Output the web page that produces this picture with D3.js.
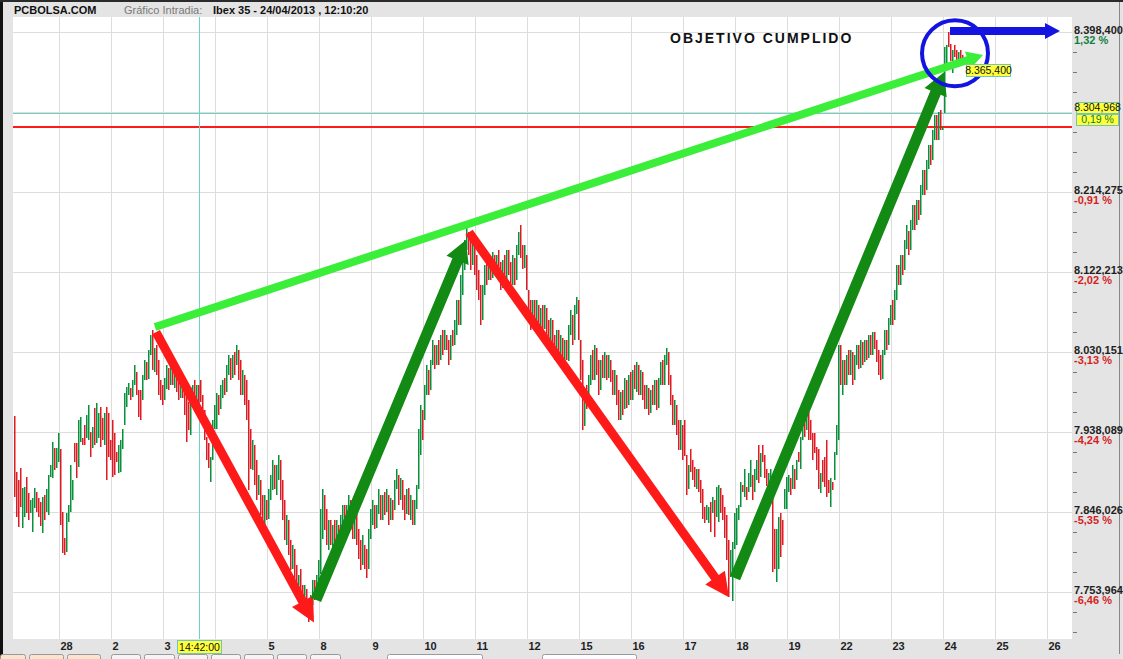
<!DOCTYPE html>
<html>
<head>
<meta charset="utf-8">
<script src="https://cdn.jsdelivr.net/npm/d3@7"></script>
<style>
  body { margin: 0; background: #e4e4e4; }
  svg { display: block; font-family: "Liberation Sans", Arial, sans-serif; }
</style>
</head>
<body>
<svg id="chart" width="1123" height="659"></svg>
<script>
// ===============================================================
// Data: 20-minute bars, [open, close] per bar, one array per session

const d27 = [[7957,7864],[7892,7840],[7883,7829],[7897,7852],[7828,7874],[7840,7875],[7886,7845],[7868,7837],[7845,7860],[7823,7862],[7851,7874],[7869,7846],[7862,7840],[7857,7829],[7822,7863],[7866,7837],[7845,7872],[7843,7889],[7886,7900],[7885,7927],[7920,7895],[7897,7920],[7904,7937]];
const d28 = [[7918,7831],[7846,7799],[7816,7797],[7800,7845],[7834,7854],[7846,7900],[7860,7883],[7926,7904],[7926,7886],[7898,7952],[7926,7955],[7931,7923],[7946,7923],[7932,7958],[7929,7969],[7938,7909],[7920,7944],[7966,7923],[7926,7972],[7931,7960],[7967,7921],[7954,7929],[7923,7960],[7967,7883],[7960,7909],[7929,7906]];
const d02 = [[7952,7886],[7937,7889],[7915,7903],[7891,7923],[7892,7929],[7918,7941],[7946,7983],[7967,7990],[7981,7995],[7989,7975],[7978,7998],[7992,8015],[8007,7981],[7987,7956],[7987,7952],[7975,8004],[7998,8021],[8019,7998],[8000,8033],[8027,8050],[8056,8010],[8007,8035],[8038,8004],[8021,7981],[7998,7975],[7992,7969]];
const d03 = [[7975,8000],[7987,8015],[8012,7987],[7992,8021],[8019,7992],[7989,8012],[8015,7984],[8000,7975],[7977,8000],[7998,7977],[7992,7958],[7990,7927],[7973,7941],[7935,7990],[7969,7992],[7998,7975],[7969,7992],[7992,7964],[7998,7973],[7981,7946],[7964,7929],[7932,7906],[7926,7897],[7880,7909],[7906,7952],[7941,7969]];
const d04 = [[7941,7983],[7981,7958],[7964,7992],[7977,7998],[8000,7981],[7984,8015],[8004,8027],[8023,7998],[8000,8027],[8030,8004],[8015,8038],[8033,7998],[8021,7981],[7981,8010],[8004,7969],[7998,7952],[7975,7872],[7941,7895],[7895,7929],[7923,7877],[7906,7860],[7866,7889],[7883,7843],[7866,7831],[7826,7866],[7860,7837]];
const d05 = [[7837,7872],[7860,7889],[7872,7906],[7900,7872],[7866,7900],[7883,7912],[7906,7860],[7883,7837],[7860,7814],[7808,7843],[7837,7797],[7814,7780],[7780,7808],[7803,7768],[7785,7751],[7751,7774],[7780,7747],[7762,7739],[7739,7762],[7757,7731],[7745,7720],[7722,7751],[7739,7768],[7768,7745],[7745,7774],[7762,7791]];
const d08 = [[7774,7849],[7814,7872],[7866,7826],[7849,7808],[7803,7837],[7837,7808],[7805,7831],[7837,7803],[7808,7837],[7831,7805],[7808,7843],[7831,7854],[7854,7820],[7820,7854],[7843,7866],[7860,7826],[7849,7814],[7814,7849],[7846,7808],[7826,7791],[7814,7780],[7785,7820],[7808,7780],[7803,7770],[7780,7826],[7814,7849]];
const d09 = [[7831,7860],[7854,7826],[7828,7854],[7843,7872],[7866,7837],[7837,7866],[7869,7843],[7846,7872],[7866,7831],[7837,7862],[7860,7837],[7849,7883],[7872,7895],[7889,7854],[7860,7885],[7883,7849],[7866,7837],[7843,7872],[7874,7843],[7837,7866],[7860,7831],[7831,7860],[7849,7877],[7872,7941],[7912,7969],[7964,7929]];
const d10 = [[7952,7992],[7981,8015],[8010,7981],[7987,8021],[8015,8044],[8038,8010],[8015,8038],[8044,8015],[8021,8050],[8056,8027],[8033,8056],[8050,8033],[8044,8015],[8021,8050],[8056,8038],[8038,8067],[8050,8090],[8090,8061],[8061,8119],[8096,8142],[8125,8159],[8148,8173],[8168,8142],[8159,8125],[8130,8159],[8153,8119]];
const d11 = [[8142,8102],[8125,8090],[8107,8061],[8067,8107],[8096,8130],[8134,8107],[8113,8142],[8138,8113],[8115,8145],[8142,8119],[8119,8142],[8148,8113],[8134,8102],[8104,8136],[8142,8113],[8113,8148],[8148,8119],[8134,8102],[8107,8142],[8138,8107],[8113,8153],[8142,8168],[8176,8138],[8153,8125],[8127,8153],[8142,8102]];
const d12 = [[8102,8067],[8090,8056],[8058,8090],[8090,8061],[8061,8090],[8084,8050],[8050,8081],[8084,8056],[8056,8084],[8081,8044],[8067,8038],[8038,8069],[8067,8033],[8050,8021],[8021,8056],[8056,8019],[8015,8050],[8046,8010],[8015,8044],[8044,8021],[8019,8061],[8050,8079],[8073,8038],[8044,8084],[8073,8093],[8090,8044]];
const d15 = [[8044,7998],[8021,7941],[7946,7987],[7992,7964],[7969,8004],[7992,8027],[8033,7998],[7998,8038],[8035,8004],[8021,7981],[7987,8021],[8027,8000],[8000,8030],[8027,7998],[8000,8027],[8021,7996],[8010,7981],[7981,8010],[8004,7969],[7987,7952],[7952,7984],[7987,7958],[7964,8000],[7998,7966],[7969,8004],[8007,7975]];
const d16 = [[7975,8010],[8015,7987],[7984,8019],[8015,7981],[7981,8010],[8007,7975],[7992,7964],[7964,7992],[7989,7958],[7961,7987],[7992,7969],[7969,7998],[7998,7964],[7966,8000],[7992,8019],[8021,7992],[7992,8027],[8015,8035],[8030,7992],[8004,7969],[7981,7946],[7946,7975],[7969,7935],[7952,7918],[7918,7952],[7946,7906]];
const d17 = [[7952,7910],[7912,7866],[7872,7900],[7918,7891],[7906,7883],[7898,7875],[7872,7895],[7895,7869],[7883,7857],[7872,7837],[7852,7834],[7837,7854],[7834,7852],[7857,7822],[7845,7863],[7860,7817],[7840,7875],[7834,7877],[7874,7845],[7866,7837],[7852,7816],[7843,7791],[7814,7748],[7771,7802],[7743,7811],[7803,7845]];
const d18 = [[7808,7851],[7837,7854],[7852,7881],[7877,7869],[7863,7895],[7875,7860],[7869,7891],[7875,7906],[7889,7860],[7868,7895],[7883,7906],[7923,7879],[7886,7914],[7923,7903],[7912,7886],[7895,7875],[7860,7891],[7877,7895],[7869,7777],[7826,7780],[7765,7826],[7780,7840],[7845,7794],[7837,7808],[7849,7872],[7849,7886]];
const d19 = [[7869,7889],[7885,7866],[7872,7900],[7895,7872],[7883,7906],[7915,7904],[7895,7932],[7929,7946],[7952,7932],[7941,7958],[7961,7929],[7952,7929],[7937,7906],[7937,7914],[7921,7895],[7918,7872],[7868,7891],[7906,7881],[7909,7875],[7929,7863],[7883,7868],[7852,7885],[7881,7872],[7883,7915],[7912,7946],[7929,8038]];
const d22 = [[8038,7992],[7981,8021],[8021,7992],[7992,8027],[8033,8004],[8004,8033],[8030,7992],[7998,8027],[8015,8038],[8038,8010],[8012,8044],[8042,8015],[8019,8044],[8044,8021],[8023,8050],[8050,8027],[8027,8053],[8053,8033],[8044,8019],[8033,8004],[8027,7998],[8000,8033],[8027,8056],[8056,8033],[8038,8069],[8061,8084]];
const d23 = [[8090,8061],[8067,8102],[8090,8130],[8130,8107],[8107,8142],[8142,8119],[8125,8159],[8148,8176],[8170,8142],[8148,8182],[8170,8199],[8199,8170],[8176,8205],[8205,8182],[8188,8222],[8211,8240],[8240,8211],[8217,8251],[8240,8268],[8268,8245],[8251,8286],[8274,8303],[8303,8274],[8274,8306],[8309,8286],[8286,8289]];
const d24 = [[8305,8381],[8358,8383],[8398,8381],[8385,8366],[8351,8378],[8383,8369],[8378,8363],[8360,8375],[8378,8368],[8372,8365]];

const day_labels = ['27','28','2','3','4','5','8','9','10','11','12','15','16','17','18','19','22','23','24','25','26'];
const day_bars = [d27, d28, d02, d03, d04, d05, d08, d09, d10, d11, d12, d15, d16, d17, d18, d19, d22, d23, d24, [], []];

const price_ticks = [8398.400, 8306.337, 8214.275, 8122.213, 8030.151, 7938.089, 7846.026, 7753.964];
const pct_labels = ['1,32 %', null, '-0,91 %', '-2,02 %', '-3,13 %', '-4,24 %', '-5,35 %', '-6,46 %'];
const prev_close = 8289;
const last_price = 8365.4;
const cursor_price = 8304.968;
const cursor_pct = '0,19 %';
const cursor_bar = 93;
const cursor_time = '14:42:00';

// trend arrows drawn on the chart: [bar0, price0, bar1, price1]
const red_arrows = [[71.5, 8053, 150.5, 7719], [228, 8168, 358, 7748]];
const green_arrows = [[151.5, 7745, 226.5, 8159], [361, 7770, 465.5, 8352]];
const target_line = [71, 8059, 485, 8372];
const blue_arrow = [468.5, 8399.5, 523.5, 8399.5];
const blue_ring = [471, 8374];
const note = {bar: 328.5, price: 8386, text: 'OBJETIVO CUMPLIDO'};

// ===============================================================
// Layout

const W = 1123, H = 659;
const plot = {left: 13, right: 1072, top: 17, bottom: 639};
const bar_px = 2;
const bars_per_day = 26;
const red = '#e01a22', green = '#07913a';

const svg = d3.select('#chart');
const locale = d3.formatLocale({decimal: ',', thousands: '.', grouping: [3], currency: ['', '']});
const fmt_price = locale.format(',.3f');

const bars = [];
const day_starts = day_labels.map((lab, k) => k === 0 ? 0 : d27.length + (k - 1) * bars_per_day);
day_bars.forEach((arr, k) => arr.forEach((b, j) => bars.push({i: day_starts[k] + j, o: b[0], c: b[1]})));

const x = d3.scaleLinear()
  .domain([0, (plot.right - plot.left) / bar_px])
  .range([plot.left, plot.right]);

const y = d3.scaleLinear()
  .domain([7699.9, 8415.7])
  .range([plot.bottom, plot.top]);

// frame
svg.append('rect').attr('width', W).attr('height', H).style('fill', '#e4e4e4');
svg.append('rect').attr('width', 3).attr('height', H).style('fill', '#111');
svg.append('rect').attr('x', 0).attr('y', 0).attr('width', W).attr('height', 2).style('fill', '#2a2a2a');
svg.append('rect').attr('x', 1119).attr('y', 2).attr('width', 1).attr('height', 652).style('fill', '#888');
svg.append('rect')
  .attr('x', plot.left).attr('y', plot.top)
  .attr('width', plot.right - plot.left).attr('height', plot.bottom - plot.top)
  .style('fill', '#fff');

// header
const header = svg.append('g').style('font-size', '11px');
header.append('text').attr('x', 14).attr('y', 14).style('font-weight', 'bold').style('fill', '#111').text('PCBOLSA.COM');
header.append('text').attr('x', 124).attr('y', 14).style('fill', '#7a7a7a').text('Gráfico Intradia:');
header.append('text').attr('x', 213).attr('y', 14).style('font-weight', 'bold').style('fill', '#111').text('Ibex 35 - 24/04/2013 , 12:10:20');

// grid, drawn as 1px rects so the colours stay crisp
const grid = svg.append('g').style('fill', '#dddddd');
grid.selectAll('rect.h').data(price_ticks).join('rect')
  .attr('x', plot.left).attr('width', plot.right - plot.left)
  .attr('y', d => Math.round(y(d))).attr('height', 1);
grid.selectAll('rect.v').data(day_starts.slice(1)).join('rect')
  .attr('x', d => Math.round(x(d))).attr('width', 1)
  .attr('y', plot.top).attr('height', plot.bottom - plot.top);

// previous close and cursor lines
svg.append('rect')
  .attr('x', plot.left).attr('width', plot.right - plot.left)
  .attr('y', 2 * Math.floor(y(prev_close) / 2)).attr('height', 2)
  .style('fill', '#ff1a1a');
svg.append('rect')
  .attr('x', plot.left).attr('width', plot.right - plot.left)
  .attr('y', Math.round(y(cursor_price))).attr('height', 1)
  .style('fill', '#6fd0c4');
svg.append('rect')
  .attr('x', Math.round(x(cursor_bar))).attr('width', 1)
  .attr('y', plot.top).attr('height', plot.bottom - plot.top)
  .style('fill', '#6fd0c4');

// ===============================================================
// Bars

svg.append('g')
  .selectAll('rect').data(bars).join('rect')
  .attr('x', d => Math.round(x(d.i)) + 1)
  .attr('width', 1.5)
  .attr('y', d => Math.round(y(Math.max(d.o, d.c))))
  .attr('height', d => Math.max(1, Math.round(Math.abs(y(d.o) - y(d.c)))))
  .style('fill', d => d.c >= d.o ? green : red);

// ===============================================================
// Axes

const hidden_day = k => Math.abs(x(day_starts[k]) - x(cursor_bar)) < 26;
const x_axis = svg.append('g')
  .attr('transform', `translate(0,${plot.bottom})`)
  .call(d3.axisBottom(x).tickValues(day_starts.slice(1))
    .tickFormat((d, k) => hidden_day(k + 1) ? '' : day_labels[k + 1]).tickSize(0));
x_axis.select('.domain').remove();
x_axis.selectAll('text')
  .attr('text-anchor', 'start').attr('x', 1).attr('y', 11).attr('dy', null)
  .style('font-size', '11px').style('font-weight', 'bold').style('fill', '#1e1e1e');

const y_axis = svg.append('g')
  .attr('transform', `translate(${plot.right + 1},0)`)
  .call(d3.axisRight(y).tickValues(price_ticks)
    .tickFormat((d, k) => pct_labels[k] === null ? '' : fmt_price(d)).tickSize(0));
y_axis.select('.domain').remove();
y_axis.selectAll('text')
  .attr('x', 1).attr('y', 1).attr('dy', null)
  .style('font-size', '11px').style('font-weight', 'bold').style('fill', '#1e1e1e');
y_axis.selectAll('.tick').append('text')
  .attr('x', 1).attr('y', 11)
  .style('font-size', '11px').style('font-weight', 'bold')
  .style('fill', (d, k) => pct_labels[k] && pct_labels[k][0] === '-' ? '#d41f1f' : '#128040')
  .text((d, k) => pct_labels[k] || '');

// minor ticks on the price scale
const minor_step = (price_ticks[0] - price_ticks[1]) / 4;
const minors = d3.range(-2, 29).filter(k => k % 4 !== 0)
  .map(k => price_ticks[price_ticks.length - 1] + k * minor_step)
  .filter(v => y(v) > plot.top && y(v) < plot.bottom);
svg.append('g').style('fill', '#777').selectAll('rect').data(minors).join('rect')
  .attr('x', plot.right + 1).attr('width', 4)
  .attr('y', d => Math.round(y(d))).attr('height', 1);

// ===============================================================
// Annotations

function arrow_points(a, w, head_len, head_w) {
  const x0 = x(a[0]), y0 = y(a[1]), x1 = x(a[2]), y1 = y(a[3]);
  const L = Math.hypot(x1 - x0, y1 - y0), ux = (x1 - x0) / L, uy = (y1 - y0) / L;
  const nx = -uy, ny = ux;
  const bx = x1 - ux * head_len, by = y1 - uy * head_len;
  return [
    [x0 + nx * w / 2, y0 + ny * w / 2], [bx + nx * w / 2, by + ny * w / 2],
    [bx + nx * head_w, by + ny * head_w], [x1, y1],
    [bx - nx * head_w, by - ny * head_w], [bx - nx * w / 2, by - ny * w / 2],
    [x0 - nx * w / 2, y0 - ny * w / 2]
  ];
}
const poly = d3.line().curve(d3.curveLinearClosed);
const notes = svg.append('g');

red_arrows.forEach(a => notes.append('path').attr('d', poly(arrow_points(a, 9, 24, 12))).style('fill', '#ff1a1a'));
green_arrows.forEach(a => notes.append('path').attr('d', poly(arrow_points(a, 11, 22, 12))).style('fill', '#138a13'));
notes.append('path').attr('d', poly(arrow_points(target_line, 8, 16, 9))).style('fill', '#3aee3a');

notes.append('circle')
  .attr('cx', x(blue_ring[0])).attr('cy', y(blue_ring[1])).attr('r', 33)
  .style('fill', 'none').style('stroke', '#1414e0').style('stroke-width', 4);
notes.append('path').attr('d', poly(arrow_points(blue_arrow, 8, 15, 8))).style('fill', '#1414e0');

notes.append('text')
  .attr('x', x(note.bar)).attr('y', y(note.price))
  .style('font-size', '14px').style('font-weight', 'bold').style('letter-spacing', '2px')
  .style('fill', '#111').text(note.text);

// ===============================================================
// Value boxes (last price, cursor)

function value_box(bx, by, bw, bh, txt, color) {
  const g = svg.append('g');
  g.append('rect').attr('x', bx + 0.5).attr('y', by + 0.5).attr('width', bw).attr('height', bh)
    .style('fill', '#ffff3a').style('stroke', '#6fc6c0');
  g.append('text').attr('x', bx + bw / 2 + 0.5).attr('y', by + bh - 2).attr('text-anchor', 'middle')
    .style('font-size', '10.5px').style('fill', color).text(txt);
}
const last_bar = bars[bars.length - 1].i;
value_box(Math.round(x(last_bar + 2.5)), Math.round(y(last_price)) + 3, 44, 12, fmt_price(last_price), '#111');
value_box(plot.right + 4, Math.round(y(cursor_price)) - 11, 42, 11, fmt_price(cursor_price), '#111');
value_box(plot.right + 4, Math.round(y(cursor_price)) + 1, 42, 11, cursor_pct, '#0f7a35');
value_box(Math.round(x(cursor_bar)) - 22, plot.bottom + 1, 44, 13, cursor_time, '#111');

// bottom tab strip
const tabs = svg.append('g');
[[0, 25, '#fbe3cc'], [29, 34, '#fbe3cc'], [67, 33, '#fbe3cc'], [111, 29, '#f4f4f4'], [144, 30, '#f4f4f4'],
 [178, 29, '#f4f4f4'], [211, 29, '#f4f4f4'], [244, 29, '#f4f4f4'], [277, 29, '#f4f4f4'], [310, 30, '#f4f4f4'],
 [387, 95, '#ffffff'], [542, 94, '#ffffff']].forEach(t => {
  tabs.append('rect').attr('x', t[0] + 0.5).attr('y', 654.5).attr('width', t[1]).attr('height', 10)
    .attr('rx', 2).style('fill', t[2]).style('stroke', '#999');
});
</script>
</body>
</html>
